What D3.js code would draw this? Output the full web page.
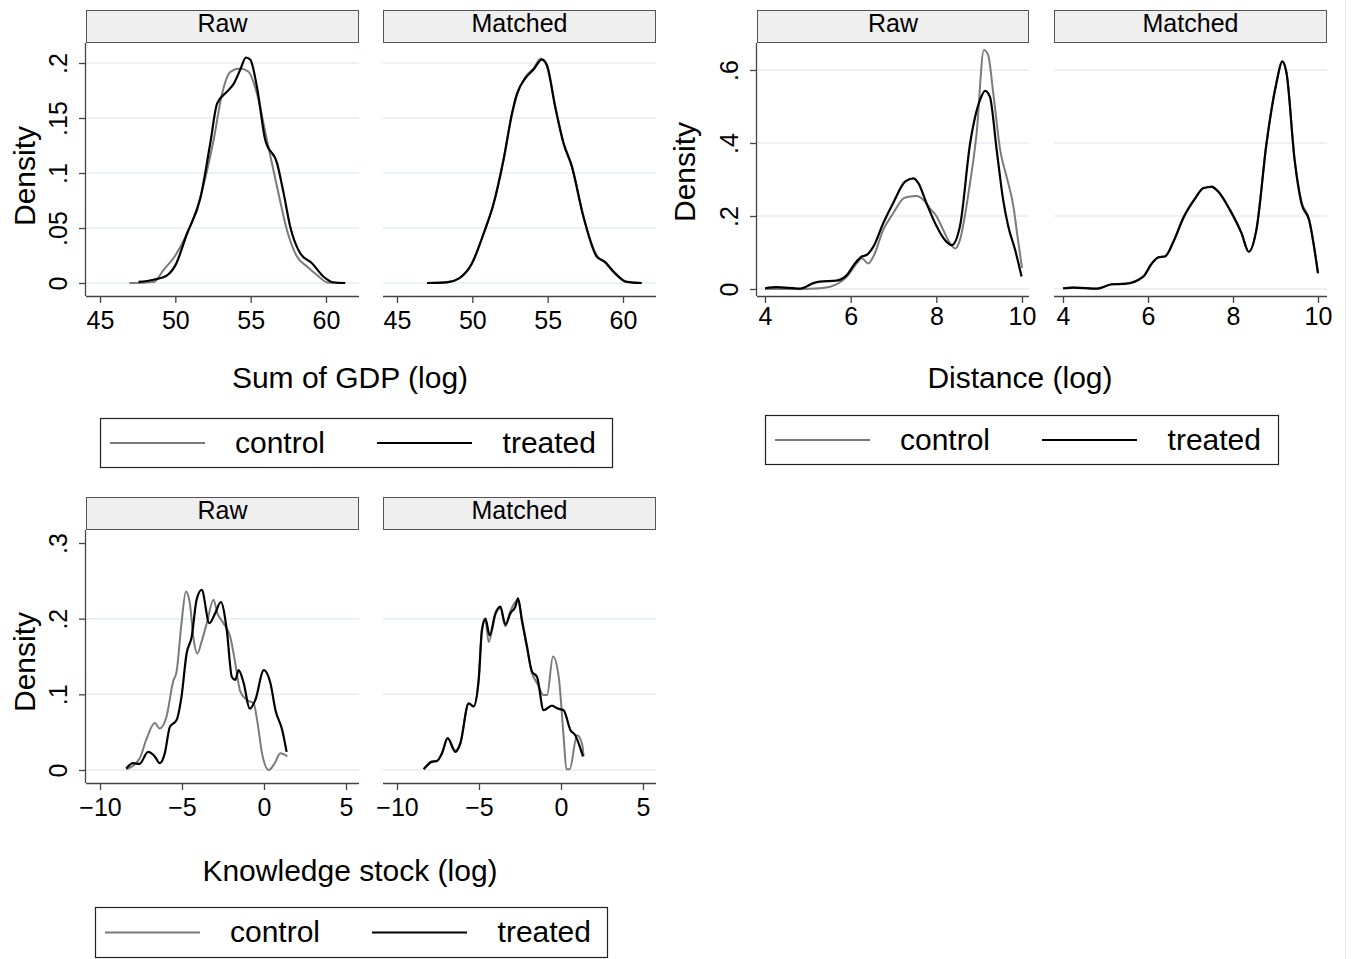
<!DOCTYPE html>
<html>
<head>
<meta charset="utf-8">
<script src="https://cdn.jsdelivr.net/npm/d3@7"></script>
<style>
  body { margin: 0; background: #fff; }
  svg { display: block; font-family: "Liberation Sans", Arial, sans-serif; }
</style>
</head>
<body>
<svg id="chart" width="1351" height="959"></svg>
<script>
// ---- data: [x, density] ----
var gdpRawControl = [[46.95,0],[48.56,0.001],[49.22,0.012],[50,0.025],[50.78,0.045],[51.66,0.078],[52.54,0.13],[53.1,0.172],[53.65,0.192],[54.31,0.195],[54.86,0.192],[55.42,0.172],[56.08,0.13],[56.75,0.0875],[57.41,0.048],[58.07,0.024],[58.74,0.015],[59.4,0.0073],[60.07,0.0005],[60.5,0]];
var gdpRawTreated = [[47.56,0.001],[48.56,0.003],[49.45,0.007],[50,0.016],[50.78,0.045],[51.66,0.077],[52.32,0.127],[52.77,0.163],[53.43,0.174],[53.87,0.181],[54.31,0.194],[54.69,0.205],[54.98,0.203],[55.42,0.178],[55.97,0.13],[56.75,0.109],[57.19,0.0815],[57.63,0.051],[58.29,0.027],[59.07,0.018],[59.84,0.0057],[60.5,0.0006],[61.28,0]];
var gdpMatControl = [[47.0,0],[48.32,0.0008],[49.09,0.004],[49.98,0.018],[50.75,0.045],[51.41,0.072],[52.07,0.112],[52.63,0.153],[52.96,0.171],[53.51,0.187],[54.06,0.195],[54.55,0.204],[54.94,0.199],[55.5,0.161],[56.05,0.128],[56.6,0.107],[57.38,0.06],[58.26,0.025],[58.81,0.019],[59.36,0.011],[60.24,0.0012],[61.24,0]];
var gdpMatTreated = [[47.0,0],[48.32,0.0006],[49.09,0.004],[49.98,0.018],[50.75,0.045],[51.41,0.072],[52.07,0.112],[52.63,0.154],[52.96,0.172],[53.51,0.186],[54.06,0.194],[54.61,0.203],[54.94,0.198],[55.5,0.16],[56.05,0.127],[56.6,0.106],[57.38,0.06],[58.26,0.024],[58.81,0.019],[59.36,0.0103],[60.24,0.001],[61.24,0]];

var distRawControl = [[4,0],[4.82,0],[5.28,0.002],[5.52,0.006],[5.91,0.034],[6.14,0.07],[6.26,0.084],[6.41,0.07],[6.53,0.089],[6.76,0.162],[6.99,0.207],[7.23,0.248],[7.35,0.253],[7.54,0.255],[7.7,0.244],[7.85,0.221],[8.01,0.198],[8.16,0.162],[8.32,0.125],[8.44,0.111],[8.55,0.134],[8.75,0.262],[8.94,0.426],[9.11,0.655],[9.21,0.641],[9.33,0.536],[9.49,0.381],[9.64,0.308],[9.8,0.226],[9.9,0.14],[10,0.058]];
var distRawTreated = [[4,0.002],[4.27,0.005],[4.82,0.001],[5.13,0.016],[5.28,0.02],[5.67,0.023],[5.91,0.038],[6.1,0.07],[6.26,0.089],[6.37,0.093],[6.53,0.116],[6.76,0.18],[6.99,0.235],[7.27,0.294],[7.46,0.303],[7.58,0.29],[7.77,0.235],[8.01,0.171],[8.2,0.134],[8.36,0.12],[8.55,0.171],[8.79,0.4],[9.02,0.518],[9.14,0.543],[9.25,0.527],[9.41,0.38],[9.56,0.244],[9.68,0.171],[9.84,0.107],[9.99,0.034]];
var distMatControl = [[4,0.002],[4.25,0.004],[4.8,0.001],[5.15,0.013],[5.46,0.015],[5.89,0.035],[6.09,0.071],[6.25,0.087],[6.4,0.09],[6.6,0.131],[6.83,0.196],[7.11,0.249],[7.3,0.277],[7.5,0.281],[7.65,0.268],[7.93,0.217],[8.2,0.153],[8.37,0.102],[8.55,0.162],[8.79,0.402],[9.02,0.565],[9.16,0.625],[9.26,0.592],[9.45,0.355],[9.61,0.24],[9.79,0.192],[10,0.045]];
var distMatTreated = [[4,0.002],[4.25,0.004],[4.8,0.001],[5.15,0.013],[5.46,0.014],[5.89,0.034],[6.09,0.07],[6.25,0.087],[6.4,0.089],[6.6,0.13],[6.83,0.194],[7.11,0.248],[7.3,0.276],[7.5,0.28],[7.65,0.267],[7.93,0.216],[8.2,0.153],[8.37,0.102],[8.55,0.162],[8.79,0.4],[9.02,0.563],[9.16,0.623],[9.26,0.591],[9.45,0.353],[9.61,0.235],[9.79,0.189],[10,0.043]];

var knowRawControl = [[-8.4,0.001],[-7.59,0.015],[-7.18,0.04],[-6.66,0.062],[-6.36,0.055],[-5.95,0.07],[-5.54,0.117],[-5.33,0.13],[-5.03,0.194],[-4.76,0.236],[-4.52,0.22],[-4.31,0.176],[-4.07,0.154],[-3.8,0.17],[-3.49,0.194],[-3.08,0.225],[-2.84,0.207],[-2.47,0.194],[-2.06,0.176],[-1.75,0.141],[-1.45,0.104],[-1.04,0.0925],[-0.63,0.088],[-0.42,0.066],[-0.12,0.022],[0.29,0],[0.6,0.007],[1.0,0.022],[1.42,0.018]];
var knowRawTreated = [[-8.4,0.002],[-7.99,0.009],[-7.59,0.008],[-7.07,0.024],[-6.66,0.018],[-6.36,0.009],[-6.05,0.022],[-5.74,0.057],[-5.33,0.066],[-5.03,0.097],[-4.72,0.154],[-4.41,0.176],[-4.11,0.225],[-3.8,0.238],[-3.33,0.194],[-2.98,0.207],[-2.63,0.222],[-2.27,0.185],[-1.96,0.123],[-1.75,0.119],[-1.55,0.132],[-1.24,0.115],[-0.87,0.081],[-0.53,0.0925],[-0.01,0.132],[0.39,0.115],[0.7,0.079],[1.11,0.053],[1.38,0.024]];
var knowMatControl = [[-8.37,0.001],[-7.87,0.011],[-7.56,0.012],[-7.26,0.022],[-6.91,0.042],[-6.44,0.026],[-6.14,0.036],[-5.63,0.088],[-5.33,0.084],[-5.02,0.119],[-4.82,0.185],[-4.61,0.198],[-4.41,0.169],[-4.0,0.205],[-3.7,0.214],[-3.39,0.19],[-3.09,0.21],[-2.78,0.222],[-2.62,0.225],[-2.38,0.196],[-2.07,0.16],[-1.77,0.128],[-1.46,0.115],[-1.06,0.099],[-0.85,0.099],[-0.49,0.15],[-0.14,0.123],[0.16,0.044],[0.33,0.001],[0.53,0.001],[0.98,0.046],[1.28,0.035],[1.38,0.018]];
var knowMatTreated = [[-8.37,0.001],[-7.87,0.011],[-7.56,0.012],[-7.26,0.022],[-6.91,0.042],[-6.44,0.024],[-6.14,0.035],[-5.63,0.088],[-5.33,0.084],[-5.02,0.119],[-4.82,0.185],[-4.61,0.2],[-4.35,0.178],[-4.0,0.207],[-3.7,0.216],[-3.39,0.192],[-3.09,0.207],[-2.78,0.216],[-2.62,0.227],[-2.38,0.198],[-2.07,0.163],[-1.77,0.13],[-1.46,0.123],[-1.06,0.079],[-0.55,0.085],[-0.24,0.0815],[0.16,0.079],[0.57,0.053],[0.87,0.046],[1.08,0.035],[1.34,0.018]];

var panelNames = ["Raw", "Matched"];
var seriesNames = ["control", "treated"];
var gdpXTicks = [45, 50, 55, 60], gdpYTicks = [0, .05, .1, .15, .2];
var distXTicks = [4, 6, 8, 10], distYTicks = [0, .2, .4, .6];
var knowXTicks = [-10, -5, 0, 5], knowYTicks = [0, .1, .2, .3];
var knowGridTicks = [0, .1, .2];

var colors = { control: "#7b7b7b", treated: "#000" };
var svg = d3.select("#chart");

// right edge border of the graph region
svg.append("line").attr("x1", 1345.5).attr("x2", 1345.5).attr("y1", 0).attr("y2", 959)
  .attr("stroke", "#e4e4e4").attr("stroke-width", 1);

var figures = [
  { title: "Sum of GDP (log)", titleX: 350, titleY: 388,
    stripTop: 10, axisY: 296, xDomain: [45, 60], yDomain: [0, .2], yRange: [283, 63],
    xTicks: gdpXTicks, yTicks: gdpYTicks, grid: gdpYTicks, tickOff: 33,
    densX: 35, densY: 176,
    panels: [{ left: 86, right: 359, xr: [100, 326], data: [gdpRawControl, gdpRawTreated] },
             { left: 383, right: 656, xr: [397, 623], data: [gdpMatControl, gdpMatTreated] }],
    legend: { x: 100, y: 418, w: 512, h: 49 } },
  { title: "Distance (log)", titleX: 1020, titleY: 388,
    stripTop: 10, axisY: 296, xDomain: [4, 10], yDomain: [0, .6], yRange: [289, 70],
    xTicks: distXTicks, yTicks: distYTicks, grid: distYTicks, tickOff: 29,
    densX: 695, densY: 172,
    panels: [{ left: 757, right: 1029, xr: [765, 1022], data: [distRawControl, distRawTreated] },
             { left: 1054, right: 1327, xr: [1063, 1318], data: [distMatControl, distMatTreated] }],
    legend: { x: 765, y: 415, w: 513, h: 49 } },
  { title: "Knowledge stock (log)", titleX: 350, titleY: 881,
    stripTop: 497, axisY: 783, xDomain: [-10, 5], yDomain: [0, .3], yRange: [770, 543],
    xTicks: knowXTicks, yTicks: knowYTicks, grid: knowGridTicks, tickOff: 33,
    densX: 35, densY: 662,
    panels: [{ left: 86, right: 359, xr: [100, 346], data: [knowRawControl, knowRawTreated] },
             { left: 383, right: 656, xr: [397, 643], data: [knowMatControl, knowMatTreated] }],
    legend: { x: 95, y: 907, w: 512, h: 50 } }
];

var xFmt = d3.format("");
var yFmt = function(d) { return d === 0 ? "0" : d3.format("")(d).replace(/^0/, ""); };

figures.forEach(function(f) {
  var y = d3.scaleLinear().domain(f.yDomain).range(f.yRange);
  var plotTop = f.stripTop + 33;

  f.panels.forEach(function(p, pi) {
    var x = d3.scaleLinear().domain(f.xDomain).range(p.xr);
    var g = svg.append("g");

    // strip
    g.append("rect").attr("x", p.left + 0.5).attr("y", f.stripTop + 0.5)
      .attr("width", p.right - p.left - 1).attr("height", 32)
      .attr("fill", "#efefef").attr("stroke", "#555").attr("stroke-width", 1);
    g.append("text").attr("x", (p.left + p.right) / 2).attr("y", f.stripTop + 22)
      .attr("text-anchor", "middle").attr("font-size", 25).text(panelNames[pi]);

    // grid
    g.selectAll(".grid").data(f.grid).enter().append("line")
      .attr("x1", p.left).attr("x2", p.right)
      .attr("y1", function(d) { return y(d); }).attr("y2", function(d) { return y(d); })
      .attr("stroke", "#e4eef1").attr("stroke-width", 1.5);

    // x axis
    var xa = g.append("g").attr("transform", "translate(0," + f.axisY + ")")
      .call(d3.axisBottom(x).tickValues(f.xTicks).tickSize(7).tickFormat(xFmt));
    xa.select(".domain").attr("d", "M" + p.left + ",0.5H" + p.right).attr("stroke", "#444").attr("stroke-width", 1.3);
    xa.selectAll(".tick line").attr("stroke", "#444").attr("stroke-width", 1.3);
    xa.selectAll(".tick text").attr("font-size", 25).attr("fill", "#000")
      .attr("font-family", "Liberation Sans, Arial, sans-serif")
      .attr("dy", null).attr("y", f.tickOff);

    // y axis only on the Raw panel
    if (pi === 0) {
      var ya = g.append("g").attr("transform", "translate(" + p.left + ",0)")
        .call(d3.axisLeft(y).tickValues(f.yTicks).tickSize(7).tickFormat(yFmt));
      ya.select(".domain").attr("d", "M-0.5," + plotTop + "V" + f.axisY).attr("stroke", "#444").attr("stroke-width", 1.3);
      ya.selectAll(".tick line").attr("stroke", "#444").attr("stroke-width", 1.3);
      ya.selectAll(".tick text").attr("font-size", 25).attr("fill", "#000")
        .attr("font-family", "Liberation Sans, Arial, sans-serif")
        .attr("x", null).attr("dy", null).attr("text-anchor", "middle")
        .attr("transform", "translate(-19,0) rotate(-90)");
    }

    // curves
    var line = d3.line().curve(d3.curveMonotoneX)
      .x(function(d) { return x(d[0]); }).y(function(d) { return y(d[1]); });
    p.data.forEach(function(series, si) {
      g.append("path").datum(series).attr("d", line).attr("fill", "none")
        .attr("stroke", colors[seriesNames[si]]).attr("stroke-width", si ? 2.2 : 2)
        .attr("stroke-linejoin", "round");
    });
  });

  // Density title
  svg.append("text").attr("transform", "translate(" + f.densX + "," + f.densY + ") rotate(-90)")
    .attr("text-anchor", "middle").attr("font-size", 30).text("Density");

  // x title
  svg.append("text").attr("x", f.titleX).attr("y", f.titleY)
    .attr("text-anchor", "middle").attr("font-size", 30).text(f.title);

  // legend
  var L = f.legend;
  var lg = svg.append("g").attr("transform", "translate(" + L.x + "," + L.y + ")");
  lg.append("rect").attr("x", 0.5).attr("y", 0.5).attr("width", L.w).attr("height", L.h)
    .attr("fill", "#fff").attr("stroke", "#222").attr("stroke-width", 1.2);
  var items = [{ k: "control", lx: 10, tx: 180, anchor: "middle" },
               { k: "treated", lx: 277, tx: 496, anchor: "end" }];
  items.forEach(function(it) {
    lg.append("line").attr("x1", it.lx).attr("x2", it.lx + 95)
      .attr("y1", L.h / 2 + 0.5).attr("y2", L.h / 2 + 0.5)
      .attr("stroke", colors[it.k]).attr("stroke-width", 2);
    lg.append("text").attr("x", it.tx).attr("y", 35).attr("text-anchor", it.anchor)
      .attr("font-size", 30).text(it.k);
  });
});
</script>
</body>
</html>
